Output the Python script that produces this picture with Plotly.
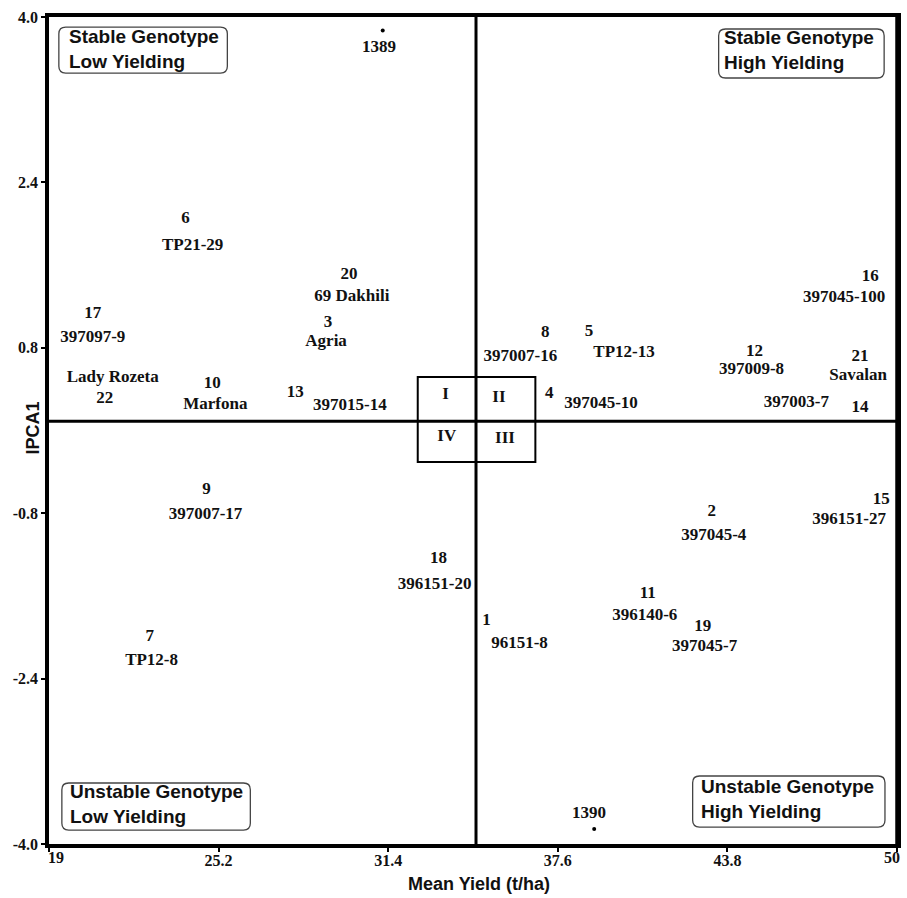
import plotly.graph_objects as go

# ---------------- data ----------------
genotype_ids = [str(i) for i in range(1, 23)]
genotype_names = ["96151-8", "397045-4", "Agria", "397045-10", "TP12-13", "TP21-29",
                  "TP12-8", "397007-16", "397007-17", "Marfona", "396140-6", "397009-8",
                  "397015-14", "397003-7", "396151-27", "397045-100", "397097-9",
                  "396151-20", "397045-7", "69 Dakhili", "Savalan", "Lady Rozeta"]
# position of the number label (mean yield, IPCA1)
id_x = [34.99, 43.23, 29.20, 37.29, 38.74, 23.99, 22.68, 37.14, 24.76, 24.97, 40.89,
        44.79, 28.00, 48.65, 49.42, 49.02, 20.60, 33.24, 42.90, 29.97, 48.65, 21.04]
id_y = [-1.843, -0.788, 1.04, 0.353, 0.953, 2.05, -1.998, 0.943, -0.576, 0.45, -1.582,
        0.76, 0.363, 0.218, -0.672, 1.485, 1.13, -1.243, -1.901, 1.51, 0.711, 0.305]
# position of the genotype name label
name_x = [36.20, 43.30, 29.13, 39.18, 40.02, 24.25, 22.75, 36.23, 24.72, 25.08, 40.78,
          44.68, 30.00, 46.32, 48.25, 48.07, 20.60, 33.10, 42.97, 30.07, 48.58, 21.33]
name_y = [-2.065, -1.021, 0.856, 0.256, 0.75, 1.79, -2.230, 0.711, -0.817, 0.247, -1.794,
          0.585, 0.237, 0.266, -0.866, 1.282, 0.895, -1.495, -2.094, 1.29, 0.527, 0.508]

# environments (years)
env_names = ["1389", "1390"]
env_x = [31.20, 38.93]
env_y = [3.87, -3.855]
env_label_x = [31.06, 38.74]
env_label_y = [3.70, -3.71]

grand_mean_yield = 34.61
ipca_ref = 0.09

x_ticks = [19, 25.2, 31.4, 37.6, 43.8, 50]
x_ticklabels = ["19", "25.2", "31.4", "37.6", "43.8", "50"]
y_ticks = [4.0, 2.4, 0.8, -0.8, -2.4, -4.0]
y_ticklabels = ["4.0", "2.4", "0.8", "-0.8", "-2.4", "-4.0"]

quadrant_texts = ["Stable Genotype<br>Low Yielding", "Stable Genotype<br>High Yielding",
                  "Unstable Genotype<br>Low Yielding", "Unstable Genotype<br>High Yielding"]
quadrant_text_x = [19.66, 43.59, 19.69, 42.75]
quadrant_text_y = [3.686, 3.68, -3.613, -3.565]
quadrant_box = [  # x0, x1, y0, y1
    (19.36, 25.52, 3.458, 3.903),
    (43.48, 49.53, 3.41, 3.884),
    (19.47, 26.36, -3.865, -3.41),
    (42.53, 49.56, -3.836, -3.342),
]

roman = ["I", "II", "III", "IV"]
roman_x = [33.50, 35.45, 35.67, 33.54]
roman_y = [0.343, 0.315, -0.08, -0.06]
center_box = (32.48, 36.78, -0.305, 0.517)

# ---------------- figure ----------------
SERIF = "Liberation Serif"
SANS = "Liberation Sans"
fig = go.Figure()

fig.add_trace(go.Scatter(x=id_x, y=id_y, text=genotype_ids, mode="text",
                         textfont=dict(family=SERIF, size=17, color="#111", weight="bold"),
                         hoverinfo="skip", showlegend=False))
fig.add_trace(go.Scatter(x=name_x, y=name_y, text=genotype_names, mode="text",
                         textfont=dict(family=SERIF, size=17, color="#111", weight="bold"),
                         hoverinfo="skip", showlegend=False))
fig.add_trace(go.Scatter(x=env_x, y=env_y, mode="markers",
                         marker=dict(size=4, color="black"),
                         hoverinfo="skip", showlegend=False))
fig.add_trace(go.Scatter(x=env_label_x, y=env_label_y, text=env_names, mode="text",
                         textfont=dict(family=SERIF, size=17, color="#111", weight="bold"),
                         hoverinfo="skip", showlegend=False))
fig.add_trace(go.Scatter(x=roman_x, y=roman_y, text=roman, mode="text",
                         textfont=dict(family=SERIF, size=17, color="#111", weight="bold"),
                         hoverinfo="skip", showlegend=False))

shapes = []
# reference lines
shapes.append(dict(type="line", xref="x", yref="paper", x0=grand_mean_yield, x1=grand_mean_yield,
                   y0=0, y1=1, line=dict(color="black", width=3)))
shapes.append(dict(type="line", xref="paper", yref="y", x0=0, x1=1, y0=ipca_ref, y1=ipca_ref,
                   line=dict(color="black", width=3)))
# right frame edge (explicit)
shapes.append(dict(type="line", xref="paper", yref="paper", x0=1, x1=1, y0=-0.002, y1=1.002,
                   line=dict(color="black", width=3.5)))
# centre box
shapes.append(dict(type="rect", xref="x", yref="y", x0=center_box[0], x1=center_box[1],
                   y0=center_box[2], y1=center_box[3], line=dict(color="black", width=2)))

# rounded quadrant boxes
rx, ry = 0.25, 0.065
for (x0, x1, y0, y1) in quadrant_box:
    p = (f"M {x0+rx},{y0} L {x1-rx},{y0} Q {x1},{y0} {x1},{y0+ry} "
         f"L {x1},{y1-ry} Q {x1},{y1} {x1-rx},{y1} L {x0+rx},{y1} "
         f"Q {x0},{y1} {x0},{y1-ry} L {x0},{y0+ry} Q {x0},{y0} {x0+rx},{y0} Z")
    shapes.append(dict(type="path", xref="x", yref="y", path=p,
                       line=dict(color="#444", width=1.3), fillcolor="white"))

annotations = []
for t, ax_, ay_ in zip(quadrant_texts, quadrant_text_x, quadrant_text_y):
    annotations.append(dict(x=ax_, y=ay_, xref="x", yref="y", text=t, showarrow=False,
                            xanchor="left", yanchor="middle", align="left",
                            font=dict(family=SANS, size=19, color="#111", weight="bold")))

tickfont = dict(family=SERIF, size=16, color="#111", weight="bold")
# end tick labels (offset inwards as in the original)
annotations.append(dict(x=x_ticks[0], y=0, xref="x", yref="paper", text=x_ticklabels[0],
                        showarrow=False, xanchor="left", yanchor="top", yshift=-3, xshift=-3,
                        font=tickfont))
annotations.append(dict(x=x_ticks[-1], y=0, xref="x", yref="paper", text=x_ticklabels[-1],
                        showarrow=False, xanchor="right", yanchor="top", yshift=-3, xshift=5,
                        font=tickfont))
# axis titles
annotations.append(dict(x=0.5, y=0, xref="paper", yref="paper", text="Mean Yield (t/ha)",
                        showarrow=False, xanchor="center", yanchor="middle", yshift=-40, xshift=6,
                        font=dict(family=SANS, size=18, color="#111", weight="bold")))
annotations.append(dict(x=0, y=0.5, xref="paper", yref="paper", text="IPCA1", textangle=-90,
                        showarrow=False, xanchor="center", yanchor="middle", xshift=-17, yshift=2,
                        font=dict(family=SANS, size=18, color="#111", weight="bold")))

x_ticktext_mid = [""] + x_ticklabels[1:-1] + [""]

fig.update_layout(
    width=907, height=898,
    margin=dict(l=49, r=10, t=17, b=54),
    plot_bgcolor="white", paper_bgcolor="white",
    shapes=shapes, annotations=annotations,
    xaxis=dict(range=[19, 50], tickvals=x_ticks, ticktext=x_ticktext_mid, automargin=False,
               showgrid=False, zeroline=False, showline=True, mirror=True,
               linecolor="black", linewidth=3.5, ticks="outside", ticklen=4, tickwidth=1.5,
               tickcolor="black", tickfont=tickfont, ticklabelstandoff=-5),
    yaxis=dict(range=[-4, 4], tickvals=y_ticks, ticktext=y_ticklabels, automargin=False,
               showgrid=False, zeroline=False, showline=True, mirror=True,
               linecolor="black", linewidth=3.5, ticks="outside", ticklen=4, tickwidth=1.5,
               tickcolor="black", tickfont=tickfont),
)

# remove the default page margin so the figure fills the window exactly
fig.write_html("out.html", config={"displayModeBar": False},
               post_script="document.body.style.margin='0';document.body.style.overflow='hidden';")
